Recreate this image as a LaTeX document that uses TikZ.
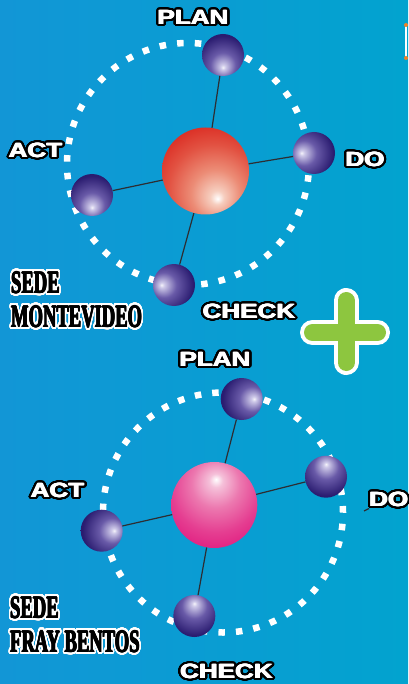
\documentclass[tikz,border=0pt]{standalone}
\usepackage{fontspec}
\setmainfont{Liberation Sans}
\newfontfamily\condserif{Liberation Serif}
\usepackage{graphicx}
\usepackage{contour}
\contourlength{1.8pt}
\contournumber{32}
\definecolor{bgL}{RGB}{18,150,214}
\definecolor{bgR}{RGB}{2,163,207}
\definecolor{navyL}{RGB}{205,200,232}
\definecolor{navyM}{RGB}{105,90,168}
\definecolor{navyD}{RGB}{42,28,112}
\definecolor{redL}{RGB}{246,205,190}
\definecolor{redM}{RGB}{236,140,118}
\definecolor{redN}{RGB}{226,82,66}
\definecolor{redB}{RGB}{218,38,30}
\definecolor{pinkL}{RGB}{245,192,217}
\definecolor{pinkM}{RGB}{236,120,175}
\definecolor{pinkN}{RGB}{229,62,145}
\definecolor{pinkB}{RGB}{224,22,124}
\definecolor{plusG}{RGB}{141,198,63}
\definecolor{spokeC}{RGB}{45,45,50}
\definecolor{handleO}{RGB}{240,130,40}
\pgfdeclareradialshading{navyball}{\pgfpoint{0bp}{-15bp}}{color(0bp)=(white!80!navyL); color(3bp)=(navyL); color(15bp)=(navyM); color(32bp)=(navyD); color(80bp)=(navyD)}
\pgfdeclareradialshading{redball}{\pgfpoint{7bp}{-16bp}}{color(0bp)=(white); color(4bp)=(redL); color(14bp)=(redM); color(26bp)=(redN); color(38bp)=(redB); color(80bp)=(redB)}
\pgfdeclareradialshading{pinkball}{\pgfpoint{1bp}{15bp}}{color(0bp)=(white); color(4bp)=(pinkL); color(14bp)=(pinkM); color(26bp)=(pinkN); color(38bp)=(pinkB); color(80bp)=(pinkB)}
\newcommand\fatlab[1]{\rlap{\hspace*{-0.45pt}#1}\rlap{\hspace*{0.45pt}#1}\rlap{\raisebox{0.3pt}{#1}}\rlap{\raisebox{-0.3pt}{#1}}#1}
\newcommand\fatsede[1]{\rlap{\hspace*{-0.8pt}#1}\rlap{\hspace*{0.8pt}#1}\rlap{\hspace*{-0.4pt}#1}\rlap{\hspace*{0.4pt}#1}\rlap{\raisebox{0.3pt}{#1}}#1}
\newcommand\lab[1]{\scalebox{1.27}[1]{\contour{black}{\fatlab{#1}}}}
\newcommand\sede[1]{\scalebox{0.58}[1]{\contourlength{2.6pt}\contour{white}{\fatsede{#1}}}}
\tikzset{
  smallball/.style={circle, inner sep=0pt, minimum size=42pt, shading=navyball},
  bigball/.style={circle, inner sep=0pt, minimum size=87pt},
  spoke/.style={draw=spokeC, line width=1.2pt},
  dotring/.style={draw=white, line width=6.5pt, line cap=butt},
  lbl/.style={inner sep=0pt, anchor=base, text=white, font=\bfseries\fontsize{20.5}{21}\selectfont},
  sedelbl/.style={inner sep=0pt, anchor=base west, text=black, font=\condserif\bfseries\fontsize{32}{32}\selectfont},
}
\begin{document}
\begin{tikzpicture}[x=1pt, y=-1pt]
\useasboundingbox (0,0) rectangle (408,684);
\shade[left color=bgL, right color=bgR] (0,0) rectangle (408,684);

% ---- top diagram ----
\coordinate (ring1) at (188,164);
\draw[dotring, dash pattern=on 6.5pt off 11.18pt] (ring1) circle[radius=121pt];
\node[bigball, shading=redball] (red1) at (205.5,171) {};
\node[smallball] (plan1) at (223,55) {};
\node[smallball, shading angle=-90] (do1) at (314,153) {};
\node[smallball] (act1) at (92,195) {};
\node[smallball, shading angle=-90] (check1) at (174,285) {};
\draw[spoke] (red1) -- (plan1);
\draw[spoke] (red1) -- (do1);
\draw[spoke] (red1) -- (act1);
\draw[spoke] (red1) -- (check1);
\node[lbl] (tplan1) at (193,24.5) {\lab{PLAN}};
\node[lbl] (tact1) at (35.5,157.5) {\lab{ACT}};
\node[lbl] (tdo1) at (365,166.5) {\lab{DO}};
\node[lbl] (tcheck1) at (249,318.5) {\lab{CHECK}};
\node[sedelbl] (sede1) at (11,293) {\sede{SEDE}};
\node[sedelbl] (city1) at (11,327) {\sede{MONTEVIDEO}};

% ---- plus sign ----
\coordinate (plusT) at (346,300.5);
\coordinate (plusB) at (346,362.5);
\coordinate (plusL) at (312.5,332.5);
\coordinate (plusR) at (377.5,332.5);
\draw[white, line width=25pt, line cap=round] (plusT) -- (plusB) (plusL) -- (plusR);
\draw[plusG, line width=17pt, line cap=round] (plusT) -- (plusB) (plusL) -- (plusR);

% ---- partial object at top right ----
\coordinate (hA) at (406,25);
\coordinate (hB) at (406,58);
\draw[white, line width=1.6pt] (hA) -- (hB);
\fill[handleO] (hA) circle[radius=2pt];
\fill[handleO] (hB) circle[radius=2pt];

% ---- bottom diagram ----
\coordinate (ring2) at (223,512.5);
\draw[dotring, dash pattern=on 6.5pt off 11.03pt] (ring2) circle[radius=120pt];
\node[bigball, minimum size=86pt, shading=pinkball] (red2) at (214.3,505) {};
\node[smallball, shading angle=90] (plan2) at (241.7,399) {};
\node[smallball, shading angle=180] (do2) at (326,476.7) {};
\node[smallball, shading angle=90] (act2) at (101.7,530.7) {};
\node[smallball, shading angle=180] (check2) at (194.3,616) {};
\draw[spoke] (red2) -- (plan2);
\draw[spoke] (red2) -- (do2);
\draw[spoke] (red2) -- (act2);
\draw[spoke] (red2) -- (check2);
\coordinate (stubA) at (364,511);
\coordinate (stubB) at (369,508.5);
\draw[spoke] (stubA) -- (stubB);
\node[lbl] (tplan2) at (215,366.5) {\lab{PLAN}};
\node[lbl] (tact2) at (57.5,497.5) {\lab{ACT}};
\node[lbl, anchor=base west] (tdo2) at (369,506.5) {\lab{DO}};
\node[lbl] (tcheck2) at (226.5,678.5) {\lab{CHECK}};
\node[sedelbl] (sede2) at (10,618) {\sede{SEDE}};
\node[sedelbl] (city2) at (10,652) {\sede{FRAY BENTOS}};
\end{tikzpicture}
\end{document}
